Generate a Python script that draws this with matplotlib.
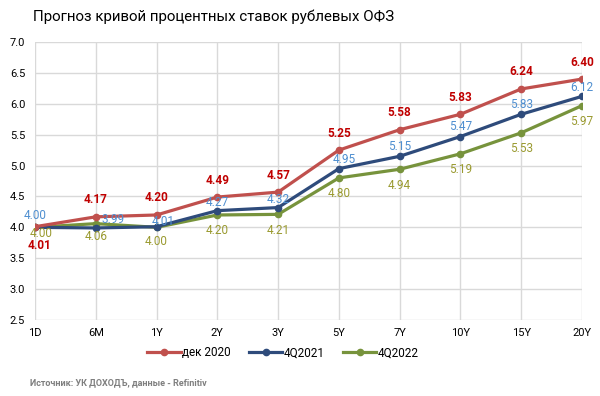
import matplotlib
matplotlib.use("Agg")
import matplotlib.pyplot as plt

plt.rcParams['font.family'] = ['Roboto', 'DejaVu Sans']

categories = ["1D", "6M", "1Y", "2Y", "3Y", "5Y", "7Y", "10Y", "15Y", "20Y"]
dec2020 = [4.01, 4.17, 4.20, 4.49, 4.57, 5.25, 5.58, 5.83, 6.24, 6.40]
q2021 = [4.00, 3.99, 4.01, 4.27, 4.32, 4.95, 5.15, 5.47, 5.83, 6.12]
q2022 = [4.00, 4.06, 4.00, 4.20, 4.21, 4.80, 4.94, 5.19, 5.53, 5.97]
series_names = ["дек 2020", "4Q2021", "4Q2022"]
yticks = [2.5, 3.0, 3.5, 4.0, 4.5, 5.0, 5.5, 6.0, 6.5, 7.0]

fig = plt.figure(figsize=(6.0, 3.96), dpi=100)
ax = fig.add_axes([35/600, 1-320/396, 547/600, 278/396])

x = list(range(len(categories)))
c_red, c_blue, c_green = "#C0504D", "#2E4B7B", "#77933C"
ax.plot(x, q2022, color=c_green, lw=2.3, marker='o', ms=4.5, zorder=3, label=series_names[2])
ax.plot(x, q2021, color=c_blue, lw=2.3, marker='o', ms=4.5, zorder=4, label=series_names[1])
ax.plot(x, dec2020, color=c_red, lw=2.3, marker='o', ms=4.5, zorder=5, label=series_names[0])

# labels
red_off = [(5, -19)] + [(0, 17)] * 9
blue_off = [(0, 12), (17, 8), (7, 5), (0, 8), (0, 8), (5, 9), (0, 10), (0, 10), (0, 10), (0, 9)]
green_off = [(6, -6), (0, -13), (0, -14), (0, -16), (0, -16), (0, -16), (0, -16), (0, -16), (0, -16), (0, -16)]
for i in x:
    ax.annotate(f"{dec2020[i]:.2f}", (i, dec2020[i]), xytext=red_off[i], textcoords='offset pixels',
                ha='center', va='center', fontsize=8.5, fontweight='bold', color="#C00000", zorder=6)
    ax.annotate(f"{q2021[i]:.2f}", (i, q2021[i]), xytext=blue_off[i], textcoords='offset pixels',
                ha='center', va='center', fontsize=8.5, color="#4F8FD0", zorder=6)
    ax.annotate(f"{q2022[i]:.2f}", (i, q2022[i]), xytext=green_off[i], textcoords='offset pixels',
                ha='center', va='center', fontsize=8.5, color="#9A9A30", zorder=6)

ax.set_xlim(0, len(categories) - 1)
ax.set_ylim(2.5, 7.0)
ax.set_yticks(yticks)
ax.set_yticklabels([f"{v:.1f}" for v in yticks])
ax.set_xticks(x)
ax.set_xticklabels(categories)
ax.tick_params(length=0, labelsize=8, colors='black')
ax.tick_params(axis='x', pad=6)
ax.tick_params(axis='y', pad=7)
ax.grid(True, color="#D9D9D9", lw=1)
for s in ax.spines.values():
    s.set_visible(False)
ax.set_axisbelow(True)

handles, labels = ax.get_legend_handles_labels()
order = [2, 1, 0]
leg = fig.legend([handles[i] for i in order], [labels[i] for i in order], loc='center',
                 bbox_to_anchor=(283/600, 1-353/396), ncol=3, frameon=False, fontsize=8.5,
                 handlelength=2.8, handletextpad=0.1, columnspacing=1.6)

fig.text(33/600, 1-17/396, "Прогноз кривой процентных ставок рублевых ОФЗ", fontsize=10.8,
         ha='left', va='center', color='black')
fig.text(30/600, 1-383/396, "Источник: УК ДОХОДЪ, данные - Refinitiv", fontsize=6.5,
         fontweight='bold', color="#7F7F7F", ha='left', va='center')

fig.savefig("out.png", dpi=100)
